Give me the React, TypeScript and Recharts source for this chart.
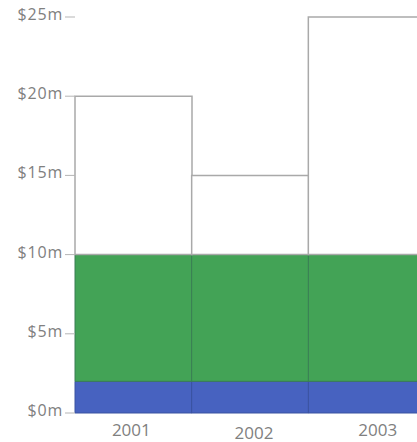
import { Bar, BarChart, XAxis, YAxis } from 'recharts';

const years = ['2001', '2002', '2003'];
const baseValues = [2, 2, 2];
const midValues = [8, 8, 8];
const topValues = [10, 5, 15];
const yTicks = [0, 5, 10, 15, 20, 25];

const data = years.map((year, i) => ({
  year,
  base: baseValues[i],
  mid: midValues[i],
  top: topValues[i],
}));

const labelColor = '#808080';
const fontFamily = '"Open Sans", Lato, sans-serif';

// the scanned original has its year labels a little off-centre
const xNudge = [-2, 4, 11];
const yNudge = [0, 3, 0];

function YTick(props: any) {
  const { x, y, payload } = props;
  return (
    <text
      x={x}
      y={y - 3}
      textAnchor="end"
      dominantBaseline="central"
      fill={labelColor}
      fontSize={16}
      letterSpacing={0.8}
      fontFamily={fontFamily}
    >
      {`$${payload.value}m`}
    </text>
  );
}

function XTick(props: any) {
  const { x, y, payload, index } = props;
  return (
    <text
      x={x + (xNudge[index] || 0)}
      y={y + 8 + (yNudge[index] || 0)}
      textAnchor="middle"
      dominantBaseline="central"
      fill={labelColor}
      fontSize={17}
      fontFamily={fontFamily}
    >
      {payload.value}
    </text>
  );
}

export default function App() {
  return (
    <div
      style={{
        position: 'fixed',
        top: 0,
        left: 0,
        width: 417,
        height: 442,
        overflow: 'hidden',
        background: '#fff',
      }}
    >
      <BarChart
        width={425}
        height={442}
        data={data}
        margin={{ top: 17, right: 0, left: 0, bottom: 0 }}
        barCategoryGap={0}
      >
        <XAxis
          dataKey="year"
          axisLine={false}
          tickLine={false}
          height={29}
          tick={<XTick />}
          interval={0}
        />
        <YAxis
          width={75}
          domain={[0, 25]}
          ticks={yTicks}
          axisLine={false}
          tickLine={{ stroke: '#b5b5b5' }}
          tickSize={10}
          tick={<YTick />}
          interval={0}
        />
        <Bar dataKey="base" stackId="a" fill="#4762c0" stroke="#3a52a0" strokeWidth={1} isAnimationActive={false} />
        <Bar dataKey="mid" stackId="a" fill="#43a356" stroke="#3a7d55" strokeWidth={1} isAnimationActive={false} />
        <Bar dataKey="top" stackId="a" fill="#ffffff" stroke="#a9a9a9" strokeWidth={1.5} isAnimationActive={false} />
      </BarChart>
    </div>
  );
}
